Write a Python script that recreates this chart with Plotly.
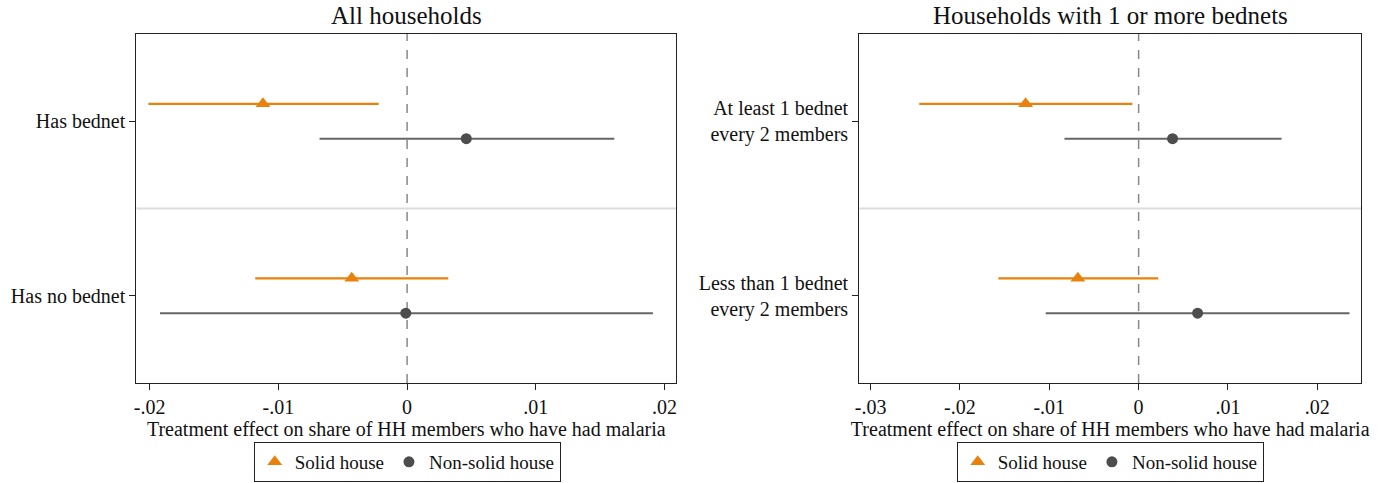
import plotly.graph_objects as go

# ---- data ----
left_categories = ["Has bednet", "Has no bednet"]
left_solid_est = [-0.0112, -0.0043]
left_solid_lo = [-0.0201, -0.0118]
left_solid_hi = [-0.0022, 0.0032]
left_nonsolid_est = [0.0046, -0.0001]
left_nonsolid_lo = [-0.0068, -0.0192]
left_nonsolid_hi = [0.0161, 0.0191]

right_categories = ["At least 1 bednet<br>every 2 members",
                    "Less than 1 bednet<br>every 2 members"]
right_solid_est = [-0.01265, -0.0068]
right_solid_lo = [-0.02455, -0.0157]
right_solid_hi = [-0.0007, 0.0022]
right_nonsolid_est = [0.0038, 0.0066]
right_nonsolid_lo = [-0.0083, -0.0104]
right_nonsolid_hi = [0.0160, 0.0236]

left_ticks = [-0.02, -0.01, 0, 0.01, 0.02]
left_ticktext = ["-.02", "-.01", "0", ".01", ".02"]
right_ticks = [-0.03, -0.02, -0.01, 0, 0.01, 0.02]
right_ticktext = ["-.03", "-.02", "-.01", "0", ".01", ".02"]

titles = ["All households", "Households with 1 or more bednets"]
xlabel = "Treatment effect on share of HH members who have had malaria"
series_names = ["Solid house", "Non-solid house"]

ORANGE = "#E8820C"
GRAY_M = "#4d4d4d"
GRAY_L = "#666666"
FONT = "Liberation Serif"
TXT = "#111111"

fig = go.Figure()

Y_DOM = [1 - 383 / 483, 1 - 34 / 483]
X_DOM_L = [132 / 1389, 674 / 1389]
X_DOM_R = [858 / 1389, 1362 / 1389]


def add_panel(xa, ya, legend, n_cats, s_est, s_lo, s_hi, n_est, n_lo, n_hi):
    idx = list(range(1, n_cats + 1))
    fig.add_trace(go.Scatter(
        x=s_est, y=[i - 0.1 for i in idx], mode="markers", name=series_names[0],
        marker=dict(symbol="triangle-up", size=13, color=ORANGE),
        error_x=dict(type="data", symmetric=False,
                     array=[h - e for h, e in zip(s_hi, s_est)],
                     arrayminus=[e - l for e, l in zip(s_est, s_lo)],
                     width=0, thickness=2.2, color=ORANGE),
        xaxis=xa, yaxis=ya, legend=legend))
    fig.add_trace(go.Scatter(
        x=n_est, y=[i + 0.1 for i in idx], mode="markers", name=series_names[1],
        marker=dict(symbol="circle", size=11, color=GRAY_M),
        error_x=dict(type="data", symmetric=False,
                     array=[h - e for h, e in zip(n_hi, n_est)],
                     arrayminus=[e - l for e, l in zip(n_est, n_lo)],
                     width=0, thickness=2, color=GRAY_L),
        xaxis=xa, yaxis=ya, legend=legend))


add_panel("x", "y", "legend", len(left_categories), left_solid_est, left_solid_lo, left_solid_hi,
          left_nonsolid_est, left_nonsolid_lo, left_nonsolid_hi)
add_panel("x2", "y2", "legend2", len(right_categories), right_solid_est, right_solid_lo, right_solid_hi,
          right_nonsolid_est, right_nonsolid_lo, right_nonsolid_hi)

axis_common = dict(showline=True, mirror=True, linecolor="#222222", linewidth=1.3,
                   showgrid=False, zeroline=False, ticks="outside", ticklen=6,
                   tickcolor="#222222", tickwidth=1.3,
                   tickfont=dict(family=FONT, size=20, color=TXT))

legend_common = dict(orientation="h", xanchor="center", y=1 / 483, yanchor="bottom",
                     bordercolor="#222222", borderwidth=1,
                     font=dict(family=FONT, size=19, color=TXT), itemwidth=30,
                     tracegroupgap=0)

xtitle = dict(text=xlabel, standoff=0, font=dict(family=FONT, size=20, color=TXT))

fig.update_layout(
    width=1389, height=483,
    margin=dict(l=0, r=0, t=0, b=0),
    paper_bgcolor="white", plot_bgcolor="white",
    font=dict(family=FONT, size=20, color=TXT),
    xaxis=dict(domain=X_DOM_L, anchor="y", range=[-0.02103, 0.0209],
               tickvals=left_ticks, ticktext=left_ticktext, title=xtitle, **axis_common),
    yaxis=dict(domain=Y_DOM, anchor="x", range=[2.5, 0.5],
               tickvals=[1, 2], ticktext=left_categories, **axis_common),
    xaxis2=dict(domain=X_DOM_R, anchor="y2", range=[-0.03126, 0.0249],
                tickvals=right_ticks, ticktext=right_ticktext, title=xtitle, **axis_common),
    yaxis2=dict(domain=Y_DOM, anchor="x2", range=[2.5, 0.5],
                tickvals=[1, 2], ticktext=right_categories, **axis_common),
    legend=dict(x=404 / 1389, **legend_common),
    legend2=dict(x=1110 / 1389, **legend_common),
    showlegend=True,
)

for xa, ya, title in [("x", "y", titles[0]), ("x2", "y2", titles[1])]:
    fig.add_shape(type="line", xref=xa + " domain", yref=ya, x0=0, x1=1, y0=1.5, y1=1.5,
                  line=dict(color="#dddddd", width=2), layer="below")
    fig.add_shape(type="line", xref=xa, yref=ya + " domain", x0=0, x1=0, y0=0, y1=1,
                  line=dict(color="#888888", width=1.5, dash="dash"), layer="below")
    fig.add_annotation(text=title, xref=xa + " domain", yref="paper", x=0.5, y=1 - 16 / 483,
                       showarrow=False, font=dict(family=FONT, size=25, color=TXT),
                       yanchor="middle")

fig.write_html("out.html", post_script="document.body.style.margin='0';",
               config={"displayModeBar": False})
